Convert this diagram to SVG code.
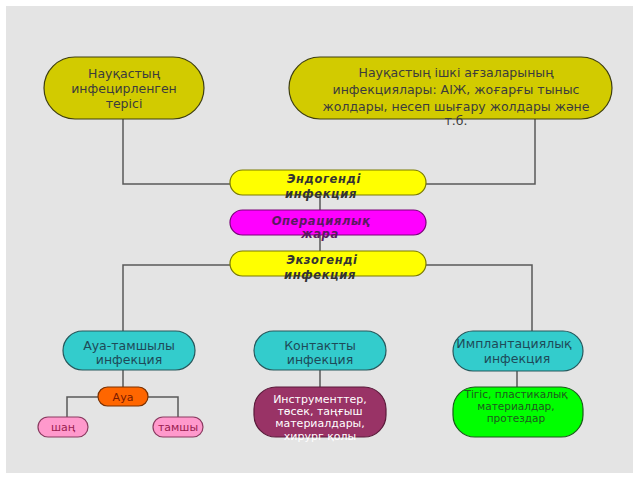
<svg xmlns="http://www.w3.org/2000/svg" width="640" height="480" viewBox="0 0 640 480">
<style>
text{font-family:"DejaVu Sans","Noto Sans",sans-serif;text-anchor:middle}
.top rect{fill:#d2cb00;stroke:#3e3e10;stroke-width:1.2}
.top text{font-size:12.5px;fill:#3c3c3c}
.mid rect{stroke-width:1.2}
.mid text{font-size:11.5px;font-weight:bold;font-style:italic;letter-spacing:0.6px}
.teal rect{fill:#33cccc;stroke:#27585c;stroke-width:1.2}
.teal text{font-size:12.5px;fill:#1e4a58}
.conn line,.conn polyline{stroke:#585858;stroke-width:1.5;fill:none}
</style>
<rect x="0" y="0" width="640" height="480" fill="#ffffff"/>
<rect x="6" y="6" width="627" height="467" fill="#e4e4e4"/>
<g class="conn">
<polyline points="123,119 123,184 230,184"/>
<polyline points="535,119 535,184 426,184"/>
<line x1="320" y1="195" x2="320" y2="211"/>
<line x1="320" y1="235" x2="320" y2="251"/>
<polyline points="230,265 123,265 123,331"/>
<polyline points="426,265 532,265 532,331"/>
<line x1="123" y1="370" x2="123" y2="387"/>
<polyline points="98,397 67,397 67,417"/>
<polyline points="148,397 178,397 178,417"/>
<line x1="320" y1="370" x2="320" y2="387"/>
<line x1="517" y1="371" x2="517" y2="387"/>
</g>
<g id="skin" class="top">
<rect x="44" y="57" width="160" height="62" rx="31"/>
<text x="124" y="78">Науқастың</text>
<text x="124" y="93">инфецирленген</text>
<text x="124" y="108">терісі</text>
</g>
<g id="internal" class="top">
<rect x="289" y="57" width="323" height="62" rx="31"/>
<text x="456" y="77">Науқастың ішкі ағзаларының</text>
<text x="456" y="94">инфекциялары: АІЖ, жоғарғы тыныс</text>
<text x="456" y="111">жолдары, несеп шығару жолдары және</text>
<text x="456" y="125">т.б.</text>
</g>
<g id="endo" class="mid">
<rect x="230" y="170" width="196" height="25" rx="12.5" fill="#ffff00" stroke="#7a7a00"/>
<text x="324" y="183" fill="#333333">Эндогенді</text>
<text x="321" y="198" fill="#333333">инфекция</text>
</g>
<g id="wound" class="mid">
<rect x="230" y="210" width="196" height="25" rx="12.5" fill="#ff00ff" stroke="#7a007a"/>
<text x="321" y="225" fill="#5a1a60">Операциялық</text>
<text x="320" y="238" fill="#5a1a60">жара</text>
</g>
<g id="exo" class="mid">
<rect x="230" y="251" width="196" height="25" rx="12.5" fill="#ffff00" stroke="#7a7a00"/>
<text x="322" y="264" fill="#333333">Экзогенді</text>
<text x="320" y="279" fill="#333333">инфекция</text>
</g>
<g id="airborne" class="teal">
<rect x="63" y="331" width="132" height="39" rx="19.5"/>
<text x="129" y="350">Ауа-тамшылы</text>
<text x="129" y="364">инфекция</text>
</g>
<g id="contact" class="teal">
<rect x="254" y="331" width="132" height="39" rx="19.5"/>
<text x="320" y="350">Контактты</text>
<text x="320" y="364">инфекция</text>
</g>
<g id="implant" class="teal">
<rect x="453" y="331" width="130" height="40" rx="20"/>
<text x="514" y="348">Имплантациялық</text>
<text x="517" y="363">инфекция</text>
</g>
<g id="air">
<rect x="98" y="387" width="50" height="19" rx="9.5" fill="#ff6600" stroke="#7a3000" stroke-width="1.2"/>
<text x="123" y="401" font-size="11" fill="#7a1a00">Ауа</text>
</g>
<g id="dust">
<rect x="38" y="417" width="50" height="20" rx="10" fill="#ff99cc" stroke="#8a3a60" stroke-width="1.2"/>
<text x="63" y="431" font-size="11" fill="#9a2050">шаң</text>
</g>
<g id="drops">
<rect x="153" y="417" width="50" height="20" rx="10" fill="#ff99cc" stroke="#8a3a60" stroke-width="1.2"/>
<text x="178" y="431" font-size="11" fill="#9a2050">тамшы</text>
</g>
<g id="instruments">
<rect x="254" y="387" width="132" height="50" rx="22" fill="#993366" stroke="#5a1a3a" stroke-width="1.2"/>
<text x="320" y="403" font-size="11" fill="#ffffff">Инструменттер,</text>
<text x="320" y="415" font-size="11" fill="#ffffff">төсек, таңғыш</text>
<text x="320" y="427" font-size="11" fill="#ffffff">материалдары,</text>
<text x="320" y="440" font-size="11" fill="#ffffff">хирург қолы</text>
</g>
<g id="sutures">
<rect x="453" y="387" width="130" height="50" rx="22" fill="#00ff00" stroke="#1a5a1a" stroke-width="1.2"/>
<text x="516" y="398" font-size="10.5" fill="#1e5a1e">Тігіс, пластикалық</text>
<text x="516" y="410" font-size="10.5" fill="#1e5a1e">материалдар,</text>
<text x="516" y="422" font-size="10.5" fill="#1e5a1e">протездар</text>
</g>
</svg>
